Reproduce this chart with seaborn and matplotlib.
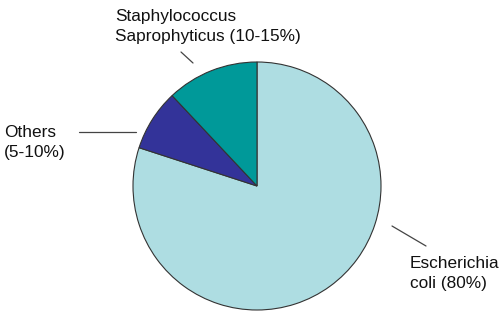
import matplotlib
matplotlib.use("Agg")
import matplotlib.pyplot as plt
import seaborn as sns

categories = ["Escherichia\ncoli (80%)", "Others\n(5-10%)", "Staphylococcus\nSaprophyticus (10-15%)"]
values = [80, 8, 12]
colors = ["#AEDDE2", "#333399", "#009999"]

sns.set_theme(style="white")
plt.rcParams['font.family'] = ['Liberation Sans', 'DejaVu Sans']

W, H = 500, 319
fig = plt.figure(figsize=(5.0, 3.19), dpi=100)
ax = fig.add_axes([0, 0, 1, 1])

def Y(y):
    return H - y

ax.pie(values, colors=colors, startangle=90, counterclock=False,
       center=(257, Y(186)), radius=124, frame=True,
       wedgeprops=dict(edgecolor="#333333", linewidth=0.8))
ax.set_xlim(0, W)
ax.set_ylim(0, H)
ax.set_aspect('equal')
ax.axis('off')

# labels: (x left, y of first baseline) in pixel coords
label_pos = [(410, 268), (4, 137), (115, 21)]
leaders = [((392, 226), (426, 246)), ((79, 132), (136, 132)), ((181, 52), (193, 63))]

for lab, (x, yb), ((x1, y1), (x2, y2)) in zip(categories, label_pos, leaders):
    lines = lab.split("\n")
    for i, ln in enumerate(lines):
        ax.text(x, Y(yb + 20 * i), ln, fontsize=12.4, color="#111111",
                ha='left', va='baseline')
    ax.plot([x1, x2], [Y(y1), Y(y2)], color="#444444", linewidth=0.9)

fig.savefig("out.png", dpi=100, facecolor="white")
